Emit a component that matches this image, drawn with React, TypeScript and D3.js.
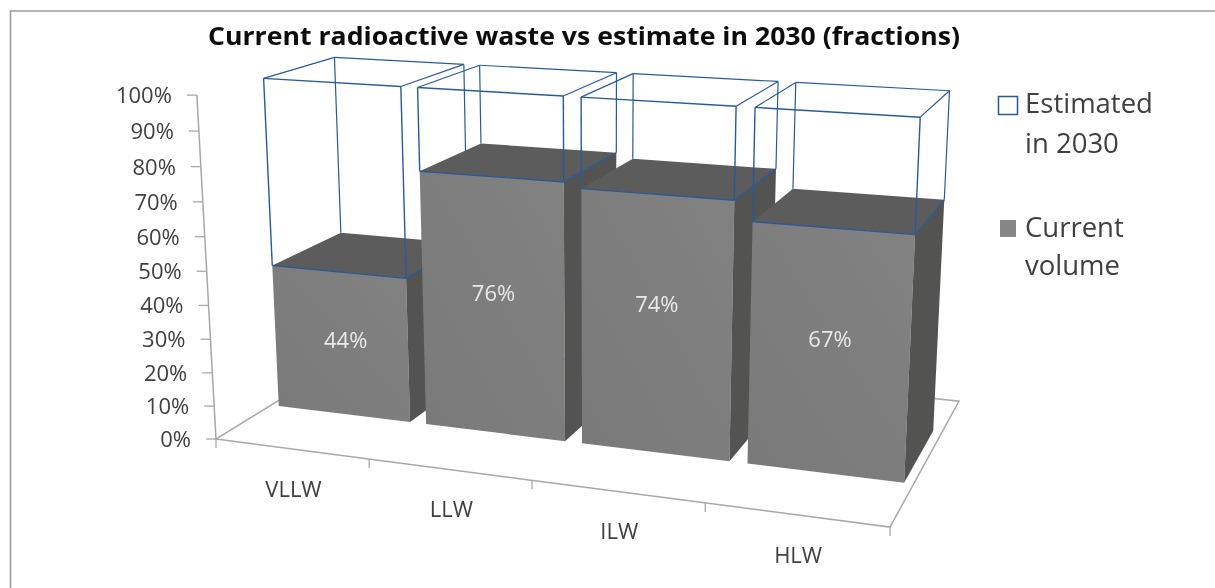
import React from "react";
import * as d3 from "d3";

const title = "Current radioactive waste vs estimate in 2030 (fractions)";
const categories = ["VLLW", "LLW", "ILW", "HLW"];
const currentVolume = [0.44, 0.76, 0.745, 0.69];
const estimated2030 = [0.56, 0.24, 0.255, 0.31];
const dataLabels = ["44%", "76%", "74%", "67%"];
const axisTicks = [0, 0.1, 0.2, 0.3, 0.4, 0.5, 0.6, 0.7, 0.8, 0.9, 1];
const legendEstimated = ["Estimated", "in 2030"];
const legendCurrent = ["Current", "volume"];

const FONT = "'Open Sans', 'Noto Sans', sans-serif";
const BLUE = "#2b5a96";
const AXIS = "#a8a8a8";
const TEXT = "#404040";

// Perspective camera for the plot box: origin + one vanishing point per world axis
const ORIGIN = [216, 439];
const VP_X = [-4866, -225], W_X = -0.1171;
const VP_Y = [1305, -230], W_Y = 0.176;
const VP_Z = [601, 7365], W_Z = -0.0473;
type V3 = [number, number, number];
function project([X, Y, Z]: V3): [number, number] {
  const a = X * W_X, b = Y * W_Y, c = Z * W_Z;
  const w = 1 + a + b + c;
  return [
    (ORIGIN[0] + a * VP_X[0] + b * VP_Y[0] + c * VP_Z[0]) / w,
    (ORIGIN[1] + a * VP_X[1] + b * VP_Y[1] + c * VP_Z[1]) / w,
  ];
}

const xBand = d3.scaleBand<string>().domain(categories).range([0, 1]).paddingInner(0.106).paddingOuter(0.053);
const xTick = d3.scaleLinear().domain([0, categories.length]).range([0, 1]);
const zScale = d3.scaleLinear().domain([0, 1]).range([0, 1]);
const pct = d3.format(".0%");
const lineGen = d3.line<V3>().x((p) => project(p)[0]).y((p) => project(p)[1]);
const DEPTH_FRONT = 0.3034, DEPTH_BACK = 0.72;
const LABEL_DX = [5, 1, 1, 1];
const LABEL_DY = [4, 0, -8, 0];

function poly(pts: V3[]) {
  return lineGen(pts) + "Z";
}

function Bar({ i }: { i: number }) {
  const c = categories[i];
  const x0 = xBand(c)!, x1 = x0 + xBand.bandwidth();
  const y0 = DEPTH_FRONT, y1 = DEPTH_BACK;
  const zc = zScale(currentVolume[i]);
  const zt = zScale(currentVolume[i] + estimated2030[i]);
  const edges: V3[][] = [
    [[x0, y1, zc], [x0, y1, zt]],
    [[x1, y1, zc], [x1, y1, zt]],
    [[x0, y1, zt], [x1, y1, zt]],
    [[x0, y0, zt], [x0, y1, zt]],
    [[x1, y0, zt], [x1, y1, zt]],
    [[x0, y0, zc], [x0, y0, zt]],
    [[x1, y0, zc], [x1, y0, zt]],
    [[x0, y0, zt], [x1, y0, zt]],
    [[x0, y0, zc], [x1, y0, zc]],
    [[x1, y0, zc], [x1, y1, zc]],
  ];
  const lab = project([(x0 + x1) / 2, y0, zc * 0.55]);
  return (
    <g>
      <path d={poly([[x0, y0, 0], [x1, y0, 0], [x1, y0, zc], [x0, y0, zc]])} fill="url(#frontFace)" />
      <path d={poly([[x1, y0, 0], [x1, y1, 0], [x1, y1, zc], [x1, y0, zc]])} fill="#535351" />
      <path d={poly([[x0, y0, zc], [x1, y0, zc], [x1, y1, zc], [x0, y1, zc]])} fill="#5b5b5b" />
      {edges.map((e, k) => (
        <path key={k} d={lineGen(e)!} fill="none" stroke={BLUE} strokeWidth={k < 5 ? 1.2 : 1.4} />
      ))}
      <text x={lab[0] + LABEL_DX[i]} y={lab[1] + 7 + LABEL_DY[i]} textAnchor="middle" fontFamily={FONT} fontSize={22} fill="#e9e9e9">
        {dataLabels[i]}
      </text>
    </g>
  );
}

export default function App() {
  const floor: V3[] = [[0, 0, 0], [1, 0, 0], [1, 1, 0], [0, 1, 0]];
  const axisPath = lineGen([[0, 0, 0], [0, 0, 1]])!;
  return (
    <svg width={1215} height={588} viewBox="0 0 1215 588" style={{ position: "fixed", left: 0, top: 0, display: "block", background: "#fff" }}>
      <defs>
        <linearGradient id="frontFace" x1="0" y1="1" x2="1" y2="0">
          <stop offset="0" stopColor="#797979" />
          <stop offset="1" stopColor="#828282" />
        </linearGradient>
        <filter id="soft" x="-2%" y="-2%" width="104%" height="104%">
          <feGaussianBlur stdDeviation="0.45" />
        </filter>
      </defs>
      <g filter="url(#soft)">
        <path d="M10.5,588V11H1215" fill="none" stroke="#9c9c9c" strokeWidth={1.6} />
        <text x={584} y={45} textAnchor="middle" fontFamily={FONT} fontWeight={700} fontSize={25} fill="#0d0d0d" textLength={752} lengthAdjust="spacingAndGlyphs">
          {title}
        </text>

        <path d={poly(floor)} fill="none" stroke={AXIS} strokeWidth={1.5} />
        <path d={axisPath} fill="none" stroke={AXIS} strokeWidth={1.5} />
        {axisTicks.map((t) => {
          const [x, y] = project([0, 0, zScale(t)]);
          return (
            <g key={t}>
              <line x1={x - 10} x2={x} y1={y} y2={y} stroke={AXIS} strokeWidth={1.3} />
              <text x={x - 25} y={y + 8} textAnchor="end" fontFamily={FONT} fontSize={22} fill={TEXT}>
                {pct(t)}
              </text>
            </g>
          );
        })}
        {d3.range(categories.length + 1).map((k) => {
          const [x, y] = project([xTick(k), 0, 0]);
          return <line key={k} x1={x} x2={x} y1={y} y2={y + 9} stroke={AXIS} strokeWidth={1.3} />;
        })}
        {categories.map((c, i) => {
          const [x, y] = project([xTick(i + 0.5), 0, 0]);
          return (
            <text key={c} x={x + 2} y={y + 48} textAnchor="middle" fontFamily={FONT} fontSize={22} fill={TEXT}>
              {c}
            </text>
          );
        })}

        {categories.map((c, i) => (
          <Bar key={c} i={i} />
        ))}

        <rect x={998.5} y={96.5} width={19} height={18} fill="#fff" stroke={BLUE} strokeWidth={1.5} />
        {legendEstimated.map((s, k) => (
          <text key={s} x={1025} y={113 + k * 40} fontFamily={FONT} fontSize={27.5} fill={TEXT}>
            {s}
          </text>
        ))}
        <rect x={1000} y={220} width={16} height={17} fill="#868686" />
        {legendCurrent.map((s, k) => (
          <text key={s} x={1025} y={237 + k * 38} fontFamily={FONT} fontSize={27.5} fill={TEXT}>
            {s}
          </text>
        ))}
      </g>
    </svg>
  );
}
